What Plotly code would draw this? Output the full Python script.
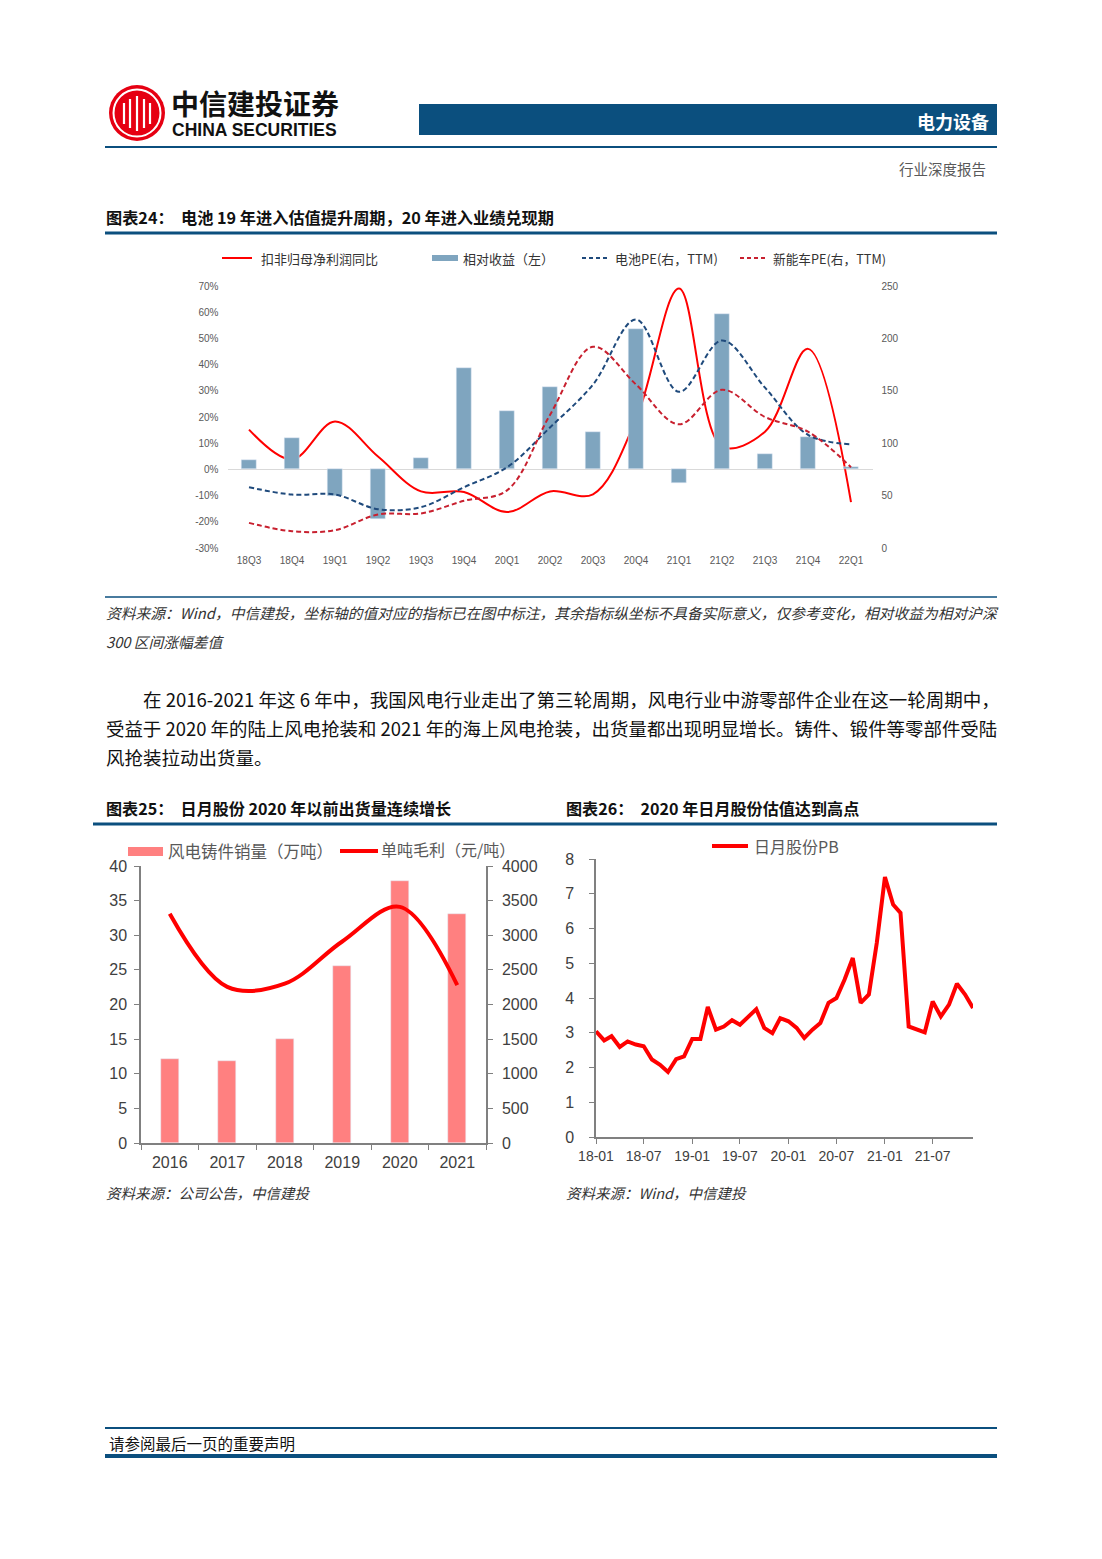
import plotly.graph_objects as go
import pandas as pd

W, H = 1102, 1559
def px(x): return x / W
def py(y): return 1 - y / H

# ---------------- Chart 24 data ----------------
quarters = ["18Q3", "18Q4", "19Q1", "19Q2", "19Q3", "19Q4", "20Q1", "20Q2",
            "20Q3", "20Q4", "21Q1", "21Q2", "21Q3", "21Q4", "22Q1"]
rel_return = [3.4, 11.8, -10.3, -19.0, 4.2, 38.8, 22.4, 31.6, 14.1, 53.6, -5.3, 59.3, 5.7, 12.2, 0.8]
profit_yoy = [15.2, 3.8, 18.3, 4.9, -8.4, -8.6, -16.3, -8.4, -9.5, 19.0, 69.0, 8.7, 14.4, 46.0, -12.5]
battery_pe = [58, 51, 51, 37, 39, 58, 77, 115, 156, 218, 149, 198, 153, 108, 99]
nev_pe = [24, 16, 17, 32, 33, 45, 55, 127, 192, 156, 118, 151, 125, 111, 77]
left_ticks = [-30, -20, -10, 0, 10, 20, 30, 40, 50, 60, 70]
left_tick_text = ["-30%", "-20%", "-10%", "0%", "10%", "20%", "30%", "40%", "50%", "60%", "70%"]

# ---------------- Chart 25 data ----------------
years = ["2016", "2017", "2018", "2019", "2020", "2021"]
casting_sales = [12.2, 11.8, 15.0, 25.5, 37.8, 33.1]
profit_per_ton = [3310, 2255, 2300, 2910, 3410, 2280]

# ---------------- Chart 26 data ----------------
pb_values = [3.04, 2.78, 2.90, 2.59, 2.75, 2.66, 2.61, 2.23, 2.08, 1.87, 2.24, 2.32,
             2.82, 2.82, 3.74, 3.09, 3.18, 3.36, 3.23, 3.47, 3.68, 3.14, 2.99, 3.42,
             3.33, 3.14, 2.85, 3.09, 3.28, 3.86, 4.00, 4.53, 5.15, 3.86, 4.10, 5.58,
             7.48, 6.69, 6.45, 3.18, 3.09, 3.01, 3.90, 3.47, 3.81, 4.41, 4.10, 3.71]
pb_dates = pd.date_range("2018-01-01", periods=len(pb_values), freq="MS")

CJK = "Noto Sans CJK SC"
ARIAL = "Arial, Liberation Sans, sans-serif"
BLUE = "#0B4F7E"
BAR24 = "#7FA5BF"
DBLUE = "#1F4A7C"
DRED = "#C8202F"
RED = "#FF0000"
PINK = "#FF8080"
AX = "#808080"

fig = go.Figure()

# ---- Chart 24 traces ----
fig.add_trace(go.Scatter(x=quarters, y=profit_yoy, xaxis="x", yaxis="y", mode="lines",
                         line=dict(color=RED, width=2, shape="spline", smoothing=1.0),
                         name="扣非归母净利润同比", showlegend=False))
fig.add_trace(go.Bar(x=quarters, y=rel_return, xaxis="x", yaxis="y2", marker_color=BAR24,
                     width=0.33, name="相对收益（左）", showlegend=False))
fig.add_trace(go.Scatter(x=quarters, y=battery_pe, xaxis="x", yaxis="y3", mode="lines",
                         line=dict(color=DBLUE, width=2, dash="5px,3px", shape="spline", smoothing=1.0),
                         name="电池PE(右，TTM)", showlegend=False))
fig.add_trace(go.Scatter(x=quarters, y=nev_pe, xaxis="x", yaxis="y3", mode="lines",
                         line=dict(color=DRED, width=2, dash="5px,3px", shape="spline", smoothing=1.0),
                         name="新能车PE(右，TTM)", showlegend=False))

# ---- Chart 25 traces ----
fig.add_trace(go.Bar(x=years, y=casting_sales, xaxis="x2", yaxis="y4", marker_color=PINK,
                     width=0.32, name="风电铸件销量（万吨）", showlegend=False))
fig.add_trace(go.Scatter(x=years, y=profit_per_ton, xaxis="x2", yaxis="y5", mode="lines",
                         line=dict(color=RED, width=4, shape="spline", smoothing=1.0),
                         name="单吨毛利（元/吨）", showlegend=False))

# ---- Chart 26 trace ----
fig.add_trace(go.Scatter(x=pb_dates, y=pb_values, xaxis="x3", yaxis="y6", mode="lines",
                         line=dict(color=RED, width=4),
                         name="日月股份PB", showlegend=False))

tick24 = dict(family=ARIAL, size=10, color="#595959")
tick25 = dict(family=ARIAL, size=16, color="#404040")

fig.update_layout(
    width=W, height=H, autosize=False,
    margin=dict(l=0, r=0, t=0, b=0, pad=0),
    paper_bgcolor="white", plot_bgcolor="rgba(0,0,0,0)",
    font=dict(family=CJK, color="#222"),
    bargap=0,
    # chart 24
    xaxis=dict(domain=[px(227.5), px(872.5)], anchor="y", type="category", automargin=False,
               range=[-0.5, 14.5], showgrid=False, showline=False, ticks="",
               tickfont=tick24, ticklabelstandoff=5),
    yaxis=dict(domain=[py(548), py(286)], anchor="x", range=[-30, 70], automargin=False,
               tickmode="array", tickvals=left_ticks, ticktext=left_tick_text,
               showgrid=False, zeroline=True, zerolinecolor="#D9D9D9",
               zerolinewidth=1, showline=False, tickfont=tick24, ticklabelstandoff=8),
    yaxis2=dict(domain=[py(548), py(286)], anchor="x", overlaying="y", range=[-30, 70],
                visible=False, automargin=False),
    yaxis3=dict(domain=[py(548), py(286)], anchor="x", overlaying="y", side="right",
                range=[0, 250], dtick=50, showgrid=False, zeroline=False, showline=False,
                tickfont=tick24, ticklabelstandoff=8, automargin=False),
    # chart 25
    xaxis2=dict(domain=[px(141), px(486)], anchor="y4", type="category", range=[-0.5, 5.5],
                showgrid=False, showline=True, linecolor=AX, linewidth=1.5, automargin=False,
                ticks="outside", tickson="boundaries", ticklen=5, tickcolor=AX,
                tickfont=tick25, ticklabelstandoff=4),
    yaxis4=dict(domain=[py(1143), py(866)], anchor="x2", range=[0, 40], dtick=5, automargin=False,
                showgrid=False, zeroline=False, showline=True, linecolor=AX, linewidth=1.5,
                ticks="outside", ticklen=5, tickcolor=AX, tickfont=tick25, ticklabelstandoff=4),
    yaxis5=dict(domain=[py(1143), py(866)], anchor="x2", overlaying="y4", side="right",
                range=[0, 4000], dtick=500, showgrid=False, zeroline=False, showline=True,
                linecolor=AX, linewidth=1.5, ticks="outside", ticklen=5, tickcolor=AX,
                tickfont=tick25, ticklabelstandoff=6, automargin=False),
    # chart 26
    xaxis3=dict(domain=[px(596), px(973)], anchor="y6", type="date", automargin=False,
                range=["2018-01-01", "2021-12-01"], tick0="2018-01-01", dtick="M6",
                tickformat="%y-%m", showgrid=False, showline=True, linecolor=AX, linewidth=1.5,
                ticks="outside", ticklen=5, tickcolor=AX,
                tickfont=dict(family=ARIAL, size=14, color="#404040"), ticklabelstandoff=0),
    yaxis6=dict(domain=[py(1137), py(859)], anchor="x3", range=[0, 8], dtick=1, automargin=False,
                showgrid=False, zeroline=False, showline=True, linecolor=AX, linewidth=1.5,
                ticks="outside", ticklen=5, tickcolor=AX, tickfont=tick25, ticklabelstandoff=12),
)

shapes = []
def hline(x0, x1, y, color, width, dash=None):
    d = dict(type="line", xref="paper", yref="paper", x0=px(x0), x1=px(x1), y0=py(y), y1=py(y),
             line=dict(color=color, width=width))
    if dash:
        d["line"]["dash"] = dash
    shapes.append(d)

def rect(x0, y0, x1, y1, color):
    shapes.append(dict(type="rect", xref="paper", yref="paper", x0=px(x0), x1=px(x1),
                       y0=py(y1), y1=py(y0), fillcolor=color, line=dict(width=0)))

# Header
shapes.append(dict(type="circle", xref="paper", yref="paper", x0=px(109), x1=px(165),
                   y0=py(141), y1=py(85), fillcolor="#E60012", line=dict(width=0)))
shapes.append(dict(type="circle", xref="paper", yref="paper", x0=px(113.5), x1=px(160.5),
                   y0=py(136.5), y1=py(89.5), line=dict(color="white", width=2)))
for xv, y0v, y1v in [(124, 103, 124), (130, 99, 128), (137, 96, 131), (144, 99, 128), (150, 103, 124)]:
    shapes.append(dict(type="line", xref="paper", yref="paper", x0=px(xv), x1=px(xv),
                       y0=py(y0v), y1=py(y1v), line=dict(color="white", width=2.2)))
rect(419, 104, 997, 135, BLUE)
hline(105, 997, 147, BLUE, 2)
# Chart 24 frame lines
hline(105, 997, 233, BLUE, 3)
hline(105, 997, 597, BLUE, 1.5)
# Chart 24 legend
hline(222, 252, 258, RED, 2)
rect(432, 255, 458, 261, BAR24)
hline(582, 608, 258, DBLUE, 2, "4px,3px")
hline(740, 766, 258, DRED, 2, "4px,3px")
# Charts 25/26 title line
hline(93, 997, 824, BLUE, 3)
# Chart 25 legend
rect(128, 847, 163, 856, PINK)
hline(340, 378, 851, RED, 4)
# Chart 26 legend
hline(712, 748, 846, RED, 4)
# Footer
hline(105, 997, 1428, BLUE, 2)
hline(105, 997, 1456, BLUE, 4)

annotations = []
def text(x, y, s, size, color="#222", anchor="left", family=CJK):
    annotations.append(dict(xref="paper", yref="paper", x=px(x), y=py(y), text=s,
                            showarrow=False, xanchor=anchor, yanchor="middle",
                            font=dict(family=family, size=size, color=color)))

text(169, 103, "<b>中信建投证券</b>", 28, "#111")
text(170, 130, "<b>CHINA SECURITIES</b>", 17.5, "#111", family=ARIAL)
text(991, 121, "<b>电力设备</b>", 18, "white", "right")
text(988, 169, "行业深度报告", 14.5, "#595959", "right")
text(104, 217, "<b>图表24：  电池 19 年进入估值提升周期，20 年进入业绩兑现期</b>", 16.2, "#111")
# legend texts chart 24
text(259, 258, "扣非归母净利润同比", 13, "#333")
text(461, 258, "相对收益（左）", 13, "#333")
text(613, 258, "电池PE(右，TTM)", 13, "#333")
text(771, 258, "新能车PE(右，TTM)", 12.7, "#333")
# source 24
text(104, 612, "<i>资料来源：Wind，中信建投，坐标轴的值对应的指标已在图中标注，其余指标纵坐标不具备实际意义，仅参考变化，相对收益为相对沪深</i>", 14.75, "#333")
text(104, 641, "<i>300 区间涨幅差值</i>", 14.75, "#333")
# paragraph
text(141, 699, "在 2016-2021 年这 6 年中，我国风电行业走出了第三轮周期，风电行业中游零部件企业在这一轮周期中，", 18.55, "#111")
text(104, 728, "受益于 2020 年的陆上风电抢装和 2021 年的海上风电抢装，出货量都出现明显增长。铸件、锻件等零部件受陆", 18.45, "#111")
text(104, 757, "风抢装拉动出货量。", 18.5, "#111")
# titles 25/26
text(104, 808, "<b>图表25：  日月股份 2020 年以前出货量连续增长</b>", 16.1, "#111")
text(564, 808, "<b>图表26：  2020 年日月股份估值达到高点</b>", 16.1, "#111")
# legends 25/26
text(166, 851, "风电铸件销量（万吨）", 16.5, "#595959")
text(379, 849, "单吨毛利（元/吨）", 16, "#595959")
text(752, 846, "日月股份PB", 16, "#595959")
# sources 25/26
text(104, 1192, "<i>资料来源：公司公告，中信建投</i>", 14.5, "#333")
text(564, 1192, "<i>资料来源：Wind，中信建投</i>", 14.5, "#333")
# footer
text(107, 1443, "请参阅最后一页的重要声明", 15.5, "#111")

fig.update_layout(shapes=shapes, annotations=annotations)

fig.write_html("out.html", config={"displayModeBar": False},
               post_script="document.body.style.margin='0';document.body.style.overflow='hidden';")
